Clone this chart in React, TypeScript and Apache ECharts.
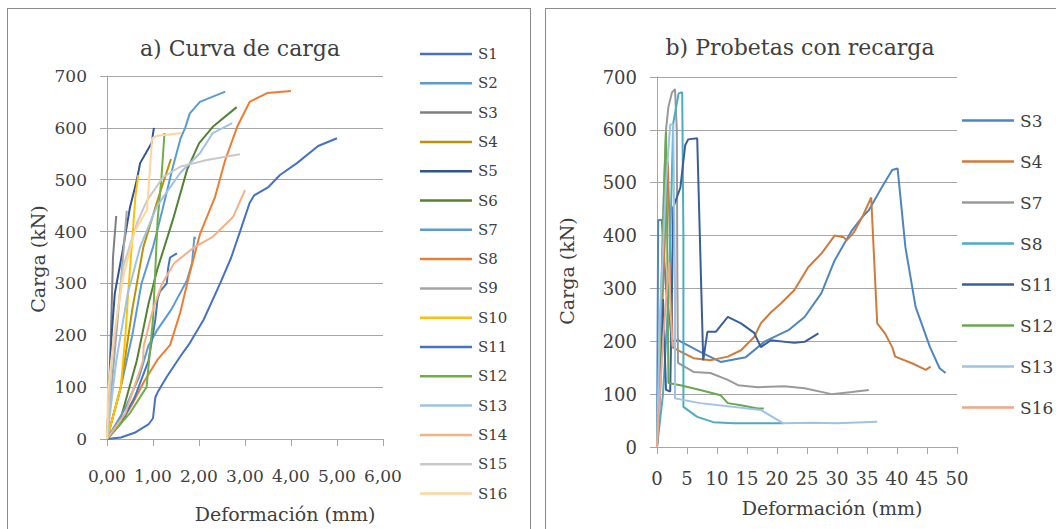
import React, { useEffect, useRef } from "react";
import * as echarts from "echarts";

// ---------- Panel a) Curva de carga : [deformación mm, carga kN] ----------
const aS1 = [[0,0],[0.3,3],[0.6,12],[0.9,28],[1.0,40],[1.05,80],[1.1,90],[1.3,120],[1.6,160],[1.8,185],[2.1,230],[2.46,300],[2.7,350],[2.93,410],[3.1,455],[3.2,470],[3.5,485],[3.76,509],[4.13,532],[4.59,565],[5.0,580]];
const aS2 = [[0,0],[0.3,100],[0.55,200],[0.75,300],[1.0,370],[1.2,440],[1.43,524],[1.6,580],[1.7,600],[1.8,628],[2.02,650],[2.57,670]];
const aS3 = [[0,0],[0.05,100],[0.1,250],[0.13,350],[0.2,430]];
const aS4 = [[0,0],[0.3,100],[0.55,250],[0.79,370],[1.08,455],[1.39,540]];
const aS5 = [[0,0],[0.05,100],[0.1,200],[0.17,281],[0.33,358],[0.5,447],[0.65,500],[0.72,532],[0.97,571],[1.02,600]];
const aS6 = [[0,0],[0.3,40],[0.65,152],[0.9,260],[1.09,326],[1.43,422],[1.74,519],[2.0,570],[2.3,602],[2.82,640]];
const aS7 = [[0,0],[0.4,60],[0.7,120],[0.9,180],[1.09,210],[1.4,250],[1.74,306],[1.85,340],[1.9,390],[1.92,385]];
const aS8 = [[0,0],[0.3,30],[0.57,71],[0.8,110],[1.09,152],[1.37,181],[1.59,243],[1.76,306],[2.02,395],[2.35,467],[2.57,538],[2.83,602],[3.1,650],[3.48,667],[4.0,671]];
const aS9 = [[0,0],[0.1,100],[0.2,200],[0.3,300],[0.43,440]];
const aS10 = [[0,0],[0.3,100],[0.4,200],[0.46,281],[0.57,409],[0.62,470],[0.68,509]];
const aS11 = [[0,0],[0.3,30],[0.6,80],[0.9,150],[1.05,230],[1.1,270],[1.15,284],[1.3,300],[1.33,330],[1.37,350],[1.52,358]];
const aS12 = [[0,0],[0.5,50],[0.86,100],[1.0,231],[1.1,422],[1.18,500],[1.25,590]];
const aS13 = [[0,0],[0.2,150],[0.45,280],[0.72,370],[1.08,448],[1.59,513],[2.02,551],[2.3,590],[2.72,609]];
const aS14 = [[0,0],[0.4,50],[0.78,150],[0.8,180],[1.0,250],[1.2,300],[1.46,339],[1.9,370],[2.3,390],[2.74,428],[3.0,480]];
const aS15 = [[0,0],[0.1,150],[0.35,332],[0.65,416],[0.87,460],[1.22,505],[1.59,525],[2.17,538],[2.89,549]];
const aS16 = [[0,0],[0.02,90],[0.15,200],[0.35,312],[0.6,400],[0.87,442],[0.98,580],[1.1,585],[1.63,590]];

const aNames = ["S1","S2","S3","S4","S5","S6","S7","S8","S9","S10","S11","S12","S13","S14","S15","S16"];
const aData = [aS1,aS2,aS3,aS4,aS5,aS6,aS7,aS8,aS9,aS10,aS11,aS12,aS13,aS14,aS15,aS16];
const aColors = ["#4472C4","#5B9BD5","#7F7F7F","#BF9000","#2F5597","#548235","#5B9BD5","#ED7D31","#A5A5A5","#FFC000","#4472C4","#70AD47","#9DC3E6","#F4B183","#C9C9C9","#FFD699"];
const aXTicks = { min: 0, max: 6, interval: 1 };

// ---------- Panel b) Probetas con recarga ----------
const bS3 = [[0,0],[0.2,429],[0.8,430],[1.5,300],[2.5,200],[3.5,202],[7.2,180],[10.6,161],[14.8,170],[18,200],[21.9,221],[24.6,246],[27.4,291],[29.6,353],[32.5,410],[34.2,435],[35.3,448],[37.5,492],[39.2,524],[40.1,527],[41.4,378],[43.1,265],[45.5,189],[47.1,149],[48.1,140]];
const bS4 = [[0,0],[1,300],[1.8,540],[2.5,246],[2.6,189],[3.5,183],[6.1,168],[8.9,164],[11.8,171],[14.0,183],[16.2,208],[17.3,234],[19,255],[20.7,272],[22.9,297],[25.2,340],[27.4,366],[29.6,400],[31.1,397],[31.6,391],[32.8,406],[34.2,435],[35.7,472],[36.7,234],[38.0,215],[39.2,189],[39.7,171],[42.6,158],[44.8,146],[45.6,152]];
const bS7 = [[0,0],[0.5,200],[1,430],[1.5,600],[1.9,643],[2.5,671],[3.0,677],[3.3,600],[3.4,300],[3.5,159],[6.1,142],[8.9,140],[11.8,127],[13.5,117],[16.8,113],[21.2,115],[24.6,111],[29.1,100],[32.5,104],[35.3,108]];
const bS8 = [[0,0],[1,100],[2,300],[2.7,612],[3.6,669],[4.2,671],[4.4,400],[4.4,76],[6.7,57],[9.4,47],[12.8,45],[21,45]];
const bS11 = [[0,0],[0.5,100],[1,280],[1.5,108],[2.2,105],[2.5,300],[2.7,453],[3.9,491],[4.7,571],[5.2,582],[6.7,584],[7.7,164],[8.4,218],[9.8,218],[11.8,246],[14.0,234],[16.2,216],[17.3,189],[19.0,202],[22.9,197],[24.6,199],[26.9,215]];
const bS12 = [[0,0],[0.8,300],[1.2,500],[1.5,596],[1.7,400],[1.9,121],[3.9,117],[7.2,108],[10.6,98],[11.8,83],[14,79],[16.8,73],[17.8,73]];
const bS13 = [[0,0],[0.5,250],[1.5,500],[2.2,610],[2.7,610],[3.0,300],[3.0,92],[7.2,83],[17.3,70],[21,45],[26,46],[30,45],[36.7,48]];
const bS16 = [[0,0],[1,200],[2,350],[2.3,250],[2.6,190]];

const bNames = ["S3","S4","S7","S8","S11","S12","S13","S16"];
const bData = [bS3,bS4,bS7,bS8,bS11,bS12,bS13,bS16];
const bColors = ["#4E86C0","#D07A3C","#9A9A9A","#4BACC6","#3A5E9C","#6AA84F","#9DC3E6","#F4A582"];
const bXTicks = { min: 0, max: 50, interval: 5 };

const yTicks = { min: 0, max: 700, interval: 100 };

const FONT = "'DejaVu Serif', 'Liberation Serif', serif";
const TXT = "#404040";
const GRID = "#A6A6A6";

function txt(text: string, x: number, y: number, size: number, rot = 0) {
  return {
    type: "text",
    x, y, rotation: rot,
    silent: true,
    style: {
      text, fill: TXT, fontSize: size, fontFamily: FONT,
      align: "center", verticalAlign: "middle",
      textAlign: "center", textVerticalAlign: "middle",
    },
  };
}

function buildOption(cfg: any) {
  return {
    animation: false,
    grid: { left: cfg.grid[0], top: cfg.grid[1], width: cfg.grid[2], height: cfg.grid[3] },
    xAxis: {
      type: "value",
      min: cfg.x.min, max: cfg.x.max, interval: cfg.x.interval,
      axisLine: { show: true, onZero: false, lineStyle: { color: GRID, width: 1 } },
      axisTick: { show: true, length: 7, lineStyle: { color: GRID } },
      splitLine: { show: false },
      axisLabel: {
        color: TXT, fontFamily: FONT, fontSize: cfg.tickSize, margin: cfg.xLabelMargin,
        formatter: cfg.xFmt,
      },
    },
    yAxis: {
      type: "value",
      min: yTicks.min, max: yTicks.max, interval: yTicks.interval,
      axisLine: { show: true, lineStyle: { color: GRID, width: 1 } },
      axisTick: { show: true, length: 7, lineStyle: { color: GRID } },
      splitLine: { show: true, lineStyle: { color: GRID, width: 1 } },
      axisLabel: { color: TXT, fontFamily: FONT, fontSize: cfg.tickSize, margin: cfg.yLabelMargin },
    },
    legend: {
      orient: "vertical",
      left: cfg.legend[0], top: cfg.legend[1],
      icon: "rect",
      itemWidth: 52, itemHeight: 2.5,
      itemGap: cfg.legend[2],
      selectedMode: false,
      textStyle: { color: TXT, fontFamily: FONT, fontSize: cfg.legendSize, lineHeight: 16, padding: [0, 0, 0, 1] },
      data: cfg.names,
    },
    graphic: cfg.graphic,
    series: cfg.names.map((n: string, i: number) => ({
      name: n,
      type: "line",
      data: cfg.data[i],
      showSymbol: false,
      symbol: "none",
      smooth: false,
      color: cfg.colors[i],
      lineStyle: { width: 2, color: cfg.colors[i] },
      itemStyle: { color: cfg.colors[i] },
    })),
  };
}

function Panel({ style, option }: { style: React.CSSProperties; option: any }) {
  const ref = useRef<HTMLDivElement>(null);
  useEffect(() => {
    if (!ref.current) return;
    const chart = echarts.init(ref.current, undefined, { renderer: "svg" });
    chart.setOption(option);
    return () => chart.dispose();
  }, [option]);
  return (
    <div style={{ position: "absolute", border: "1px solid #8c8c8c", background: "#fff", ...style }}>
      <div ref={ref} style={{ position: "absolute", left: 0, top: 0, width: "100%", height: "100%" }} />
    </div>
  );
}

const leftOption = buildOption({
  grid: [99, 67, 276, 363],
  x: aXTicks,
  xFmt: (v: number) => v.toFixed(2).replace(".", ","),
  tickSize: 17,
  xLabelMargin: 28,
  yLabelMargin: 20,
  legend: [407, 32, 13.3],
  legendSize: 15,
  names: aNames,
  data: aData,
  colors: aColors,
  graphic: [
    txt("a) Curva de carga", 232, 39, 22),
    txt("Deformación (mm)", 277, 505, 19),
    txt("Carga (kN)", 30, 250, 19, Math.PI / 2),
  ],
});

const rightOption = buildOption({
  grid: [111, 68, 300, 370],
  x: bXTicks,
  xFmt: (v: number) => String(v),
  tickSize: 18,
  xLabelMargin: 22,
  yLabelMargin: 20,
  legend: [411, 98, 24],
  legendSize: 17,
  names: bNames,
  data: bData,
  colors: bColors,
  graphic: [
    txt("b) Probetas con recarga", 254, 38, 22),
    txt("Deformación (mm)", 286, 499, 19),
    txt("Carga (kN)", 21, 262, 19, Math.PI / 2),
  ],
});

export default function App() {
  return (
    <div style={{ position: "fixed", left: 0, top: 0, width: 1056, height: 529, overflow: "hidden", background: "#fff" }}>
      <Panel style={{ left: 7, top: 8, width: 522, height: 540 }} option={leftOption} />
      <Panel style={{ left: 545, top: 8, width: 530, height: 540 }} option={rightOption} />
    </div>
  );
}
